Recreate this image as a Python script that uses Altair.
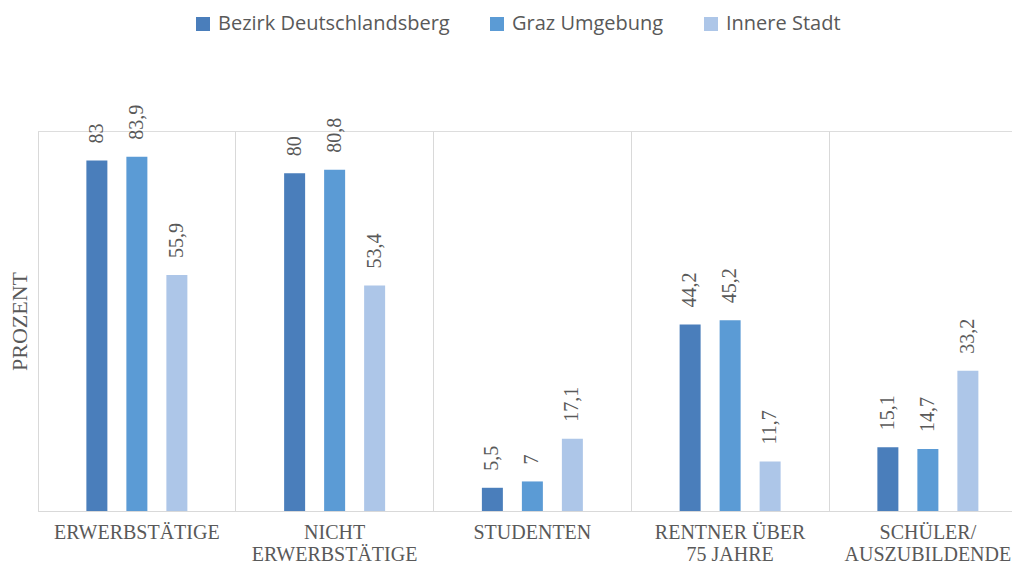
import altair as alt
import pandas as pd

categories = ["ERWERBSTÄTIGE", "NICHT\nERWERBSTÄTIGE", "STUDENTEN", "RENTNER ÜBER\n75 JAHRE", "SCHÜLER/\nAUSZUBILDENDE"]
series = ["Bezirk Deutschlandsberg", "Graz Umgebung", "Innere Stadt"]
bezirk = [83, 80, 5.5, 44.2, 15.1]
graz = [83.9, 80.8, 7, 45.2, 14.7]
innere = [55.9, 53.4, 17.1, 11.7, 33.2]
colors = ["#4A7EBB", "#5B9BD5", "#ADC6E8"]

rows = []
for s, vals in zip(series, [bezirk, graz, innere]):
    for c, v in zip(categories, vals):
        lab = (f"{v:g}").replace(".", ",")
        rows.append({"cat": c, "series": s, "value": v, "label": lab})
df = pd.DataFrame(rows)

serif = "Liberation Serif"
gray = "#595959"
line = "#D9D9D9"

x = alt.X("cat:N", sort=categories, title=None,
          scale=alt.Scale(range=[0, 988.75], paddingInner=0, paddingOuter=0),
          axis=alt.Axis(grid=True, gridColor=line, bandPosition=0, ticks=False,
                        domainColor=line, labelFont=serif, labelFontSize=20,
                        labelColor=gray, labelPadding=11, labelAngle=0,
                        labelLimit=400, labelOverlap=False, labelBound=False,
                        labelLineHeight=22,
                        labelExpr="split(datum.label, '\\n')"))
xo = alt.XOffset("series:N", sort=series,
                 scale=alt.Scale(range=[48.375, 149.375], paddingInner=0.475, paddingOuter=0))
y = alt.Y("value:Q", scale=alt.Scale(domain=[0, 90], nice=False),
          axis=alt.Axis(grid=False, ticks=False, labels=False, domainColor=line,
                        title="PROZENT", titleFont=serif, titleFontSize=22,
                        titleFontWeight="normal", titleColor=gray, titlePadding=7))

bars = alt.Chart(df).mark_bar().encode(
    x=x, xOffset=xo, y=y,
    color=alt.Color("series:N", sort=series,
                    scale=alt.Scale(domain=series, range=colors),
                    legend=alt.Legend(title=None, orient="none", direction="horizontal",
                                      legendX=155, legendY=-117,
                                      symbolType="square", symbolSize=196,
                                      symbolStrokeWidth=0,
                                      labelFont="Open Sans", labelFontSize=20,
                                      labelColor=gray, labelOffset=5,
                                      columnPadding=37, labelLimit=400)),
)

texts = alt.Chart(df).mark_text(angle=270, align="left", baseline="middle", dx=17,
                                font=serif, fontSize=20, color=gray).encode(
    x=x, xOffset=xo, y=y, text="label:N"
)

chart = alt.layer(bars, texts).properties(
    width=974, height=380,
    autosize=alt.AutoSizeParams(type="none"),
    padding={"left": 30, "top": 123, "right": 0, "bottom": 60},
).configure_view(stroke=None).configure(background="white")

chart.save("out.html", embed_options={"renderer": "svg", "actions": False})
